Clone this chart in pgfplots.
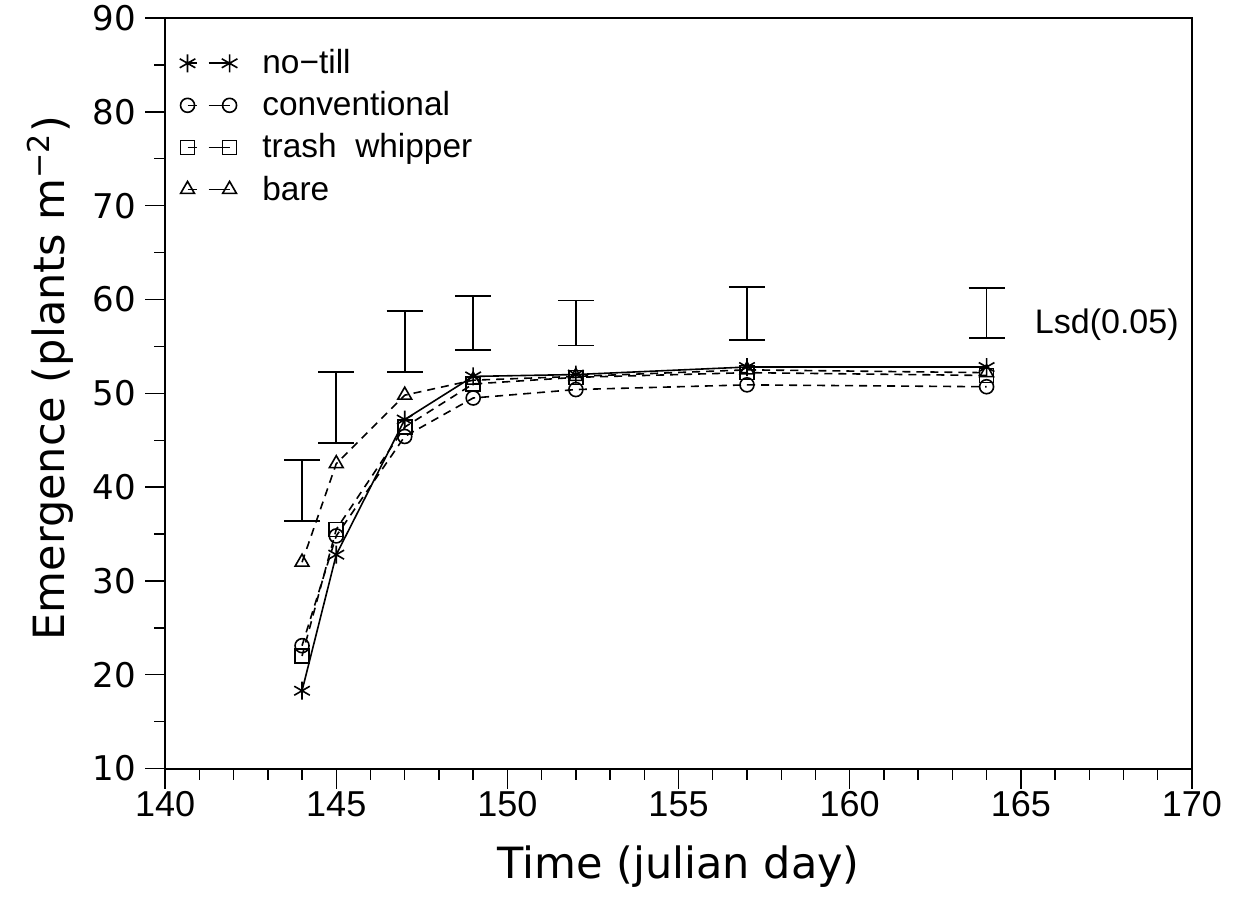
\documentclass[border=0pt]{standalone}
\usepackage{fontspec}
\setmainfont{Liberation Sans}
\newfontfamily\dejavu{DejaVu Sans}
\usepackage{pgfplots}
\pgfplotsset{compat=1.18}
\begin{document}
\begin{tikzpicture}
\useasboundingbox (-82.5pt,-67.5pt) rectangle (536.5pt,384pt);
\begin{axis}[
  scale only axis, width=513pt, height=375pt,
  xmin=140, xmax=170, ymin=10, ymax=90,
  xtick={140,145,...,170}, ytick={10,20,...,90},
  minor x tick num=4, minor y tick num=1,
  tick align=outside, xtick pos=bottom, ytick pos=left,
  major tick length=10pt, minor tick length=5.5pt,
  axis line style={line width=0.9pt},
  tick style={line width=0.7pt, black},
  /pgf/number format/assume math mode=true,
  xticklabel style={font=\fontsize{18}{20}\selectfont, yshift=2pt},
  yticklabel style={font=\dejavu\fontsize{17}{20}\selectfont, xshift=-1pt},
  xlabel={Time (julian day)},
  ylabel={Emergence (plants m\textsuperscript{−2})},
  label style={font=\dejavu\fontsize{21.5}{26}\selectfont},
  xlabel style={at={(axis description cs:0.5,-0.131)}, anchor=center},
  ylabel style={at={(axis description cs:-0.112,0.52)}, anchor=center},
  legend style={at={(rel axis cs:0.008,0.969)}, anchor=north west, draw=none, fill=none,
    font=\fontsize{16.7}{19}\selectfont, row sep=3.4pt, cells={anchor=west}},
  legend image code/.code={%
    \draw[#1, solid, dash pattern=on 4.5pt off 6pt on 20pt off 0pt] plot coordinates {(0pt,0pt) (21pt,0pt)};},
  every axis plot/.append style={line width=0.8pt, black},
]
\addplot[solid, mark=asterisk, mark size=4.5pt, mark options={solid}]
  coordinates {(144,18.3) (145,32.8) (147,47.2) (149,51.8) (152,52.0) (157,52.8) (164,52.8)};
\addlegendentry{\hspace{10.5pt}no−till}
\addplot[dash pattern=on 4pt off 3pt, mark=o, mark size=3.5pt, mark options={solid}]
  coordinates {(144,23.1) (145,34.8) (147,45.4) (149,49.5) (152,50.4) (157,50.9) (164,50.7)};
\addlegendentry{\hspace{10.5pt}conventional}
\addplot[dash pattern=on 4pt off 3pt, mark=square, mark size=3.5pt, mark options={solid}]
  coordinates {(144,22.0) (145,35.5) (147,46.4) (149,51.0) (152,51.7) (157,52.2) (164,51.9)};
\addlegendentry{\hspace{10.5pt}trash\ \ whipper}
\addplot[dash pattern=on 4pt off 3pt, mark=triangle, mark size=4pt, mark options={solid}]
  coordinates {(144,32.0) (145,42.5) (147,49.8) (149,51.4) (152,51.8) (157,52.5) (164,52.2)};
\addlegendentry{\hspace{10.5pt}bare}
\addplot[draw=none, mark=none, forget plot,
  error bars/.cd, y dir=both, y explicit,
  error bar style={draw=black, line width=0.8pt, solid},
  error mark options={draw=black, rotate=90, mark size=9pt, line width=0.8pt, solid}]
  coordinates {
  (144,39.65) +- (0,3.25)
  (145,48.5) +- (0,3.8)
  (147,55.5) +- (0,3.25)
  (149,57.5) +- (0,2.9)
  (152,57.5) +- (0,2.4)
  (157,58.475) +- (0,2.825)
  (164,58.55) +- (0,2.65)
  };
\node[anchor=west, font=\fontsize{17}{20}\selectfont, inner sep=0pt] at (axis cs:165.4,57.3) {Lsd(0.05)};
\end{axis}
\end{tikzpicture}
\end{document}
